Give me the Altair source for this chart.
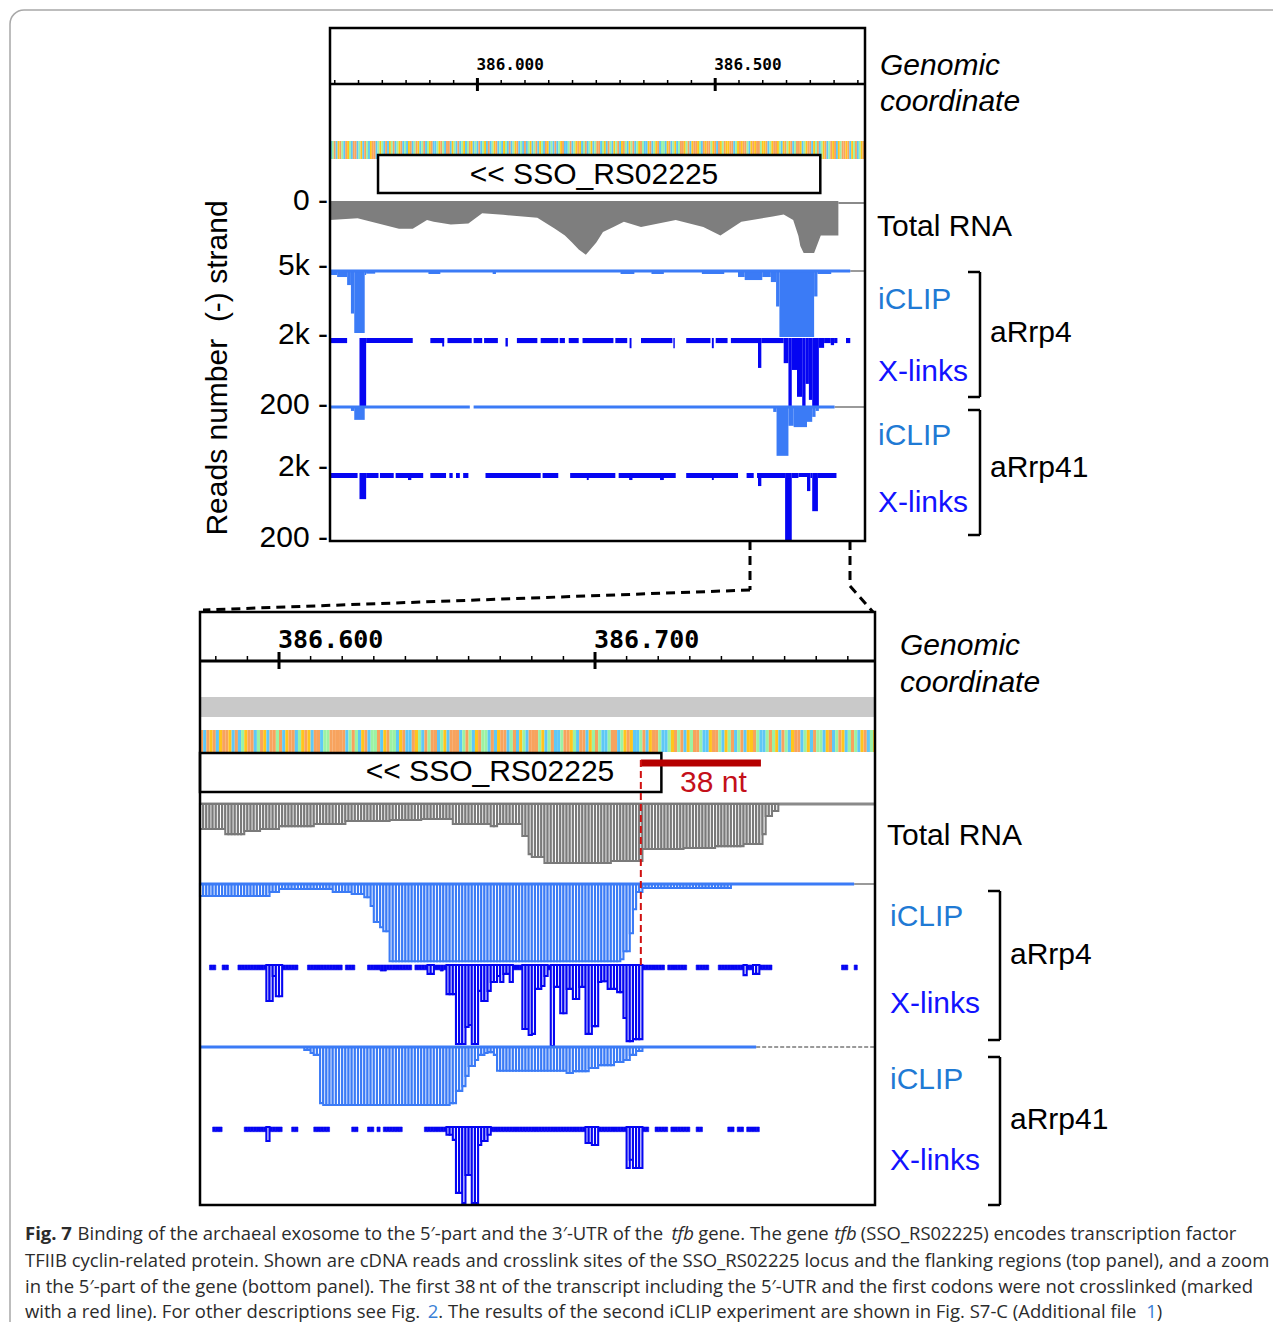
import altair as alt
import pandas as pd

# ====================== values ======================
TOP_DOMAIN = [385690, 386815]          # genomic window of the top panel (nt)
BOT_DOMAIN = [386575, 386788.6]        # genomic window of the zoom panel (nt)

TOP_TICKS_MAJOR = [386000, 386500]
TOP_TICK_LABELS = ["386.000", "386.500"]
TOP_TICKS_MINOR = [385700 + 50 * i for i in range(23)]
BOT_TICKS_MAJOR = [386600, 386700]
BOT_TICK_LABELS = ["386.600", "386.700"]
BOT_TICKS_MINOR = [386580 + 10 * i for i in range(21)]

GENE = [385791, 386721]
GENE_NAME = "<< SSO_RS02225"
RED_38NT = [386714.5, 386752.5]

# sequence colour strips (top: one letter per 4 nt, bottom: one letter per nt)
TOP_SEQ = ("CATCGTACTGACTTCAGCTACGTTCAGACTCGATCAGTCACGTCATGCATCAGTCCAGTACTTCGACTCA"
           "GCATGCACTCAGCTCAGTCACGACTCAGTCACTCAGCATCGACTGCACTCAGTCCATCAGTGCATCAGCA"
           "TTCAGCTACGATCGTACGATCAGTACCGTCAGTCAACGTCAGCATTGATCGTTGACTGTTAGTCTGATGG"
           "TTCAGTGTTACGTGTTAGGTCAGTTGACGTAGTCATTGCAGTTCGATCAGTCATGTCGATTGTCGATCAG"
           "TACGTTGCATCGATCGATCA")
BOT_SEQ = ("TCTGTCGTTGCTCAGTTCATGCTTATCGTTCAGTGCTTCAATTTTTCATACGTCAATCGTAACGTCCTGA"
           "CTATTCAGCTTTCATACGTAACTCGTTCATCGACTTTAGCATCCATTGACTTCGATACCATTCAGTGCCA"
           "TCGTTACCAGTATCGATTACCGTTACGATCATCGGTACCATAGCTACGTTCAGCTAACGTCATGCATACG"
           "TCAGCATCGAT")

# --- top panel: Total RNA coverage profile (position, reads)
TOP_TOTAL_POS = [385690, 385748, 385777, 385806, 385835, 385864, 385894, 385908, 385944,
                 385981, 386010, 386054, 386126, 386163, 386184, 386199, 386213, 386228,
                 386250, 386264, 386286, 386308, 386344, 386417, 386475, 386511, 386555,
                 386621, 386644, 386664, 386675, 386679, 386686, 386708, 386722, 386755,
                 386759]
TOP_TOTAL_VAL = [1480, 1350, 1620, 1890, 2160, 2160, 1480, 1620, 1840,
                 1760, 950, 1080, 1300, 2160, 2700, 3240, 3780, 4190,
                 3240, 2430, 2030, 1620, 2030, 1480, 2030, 2700, 1620,
                 1220, 1050, 1480, 2730, 3510, 4060, 4060, 2700, 2700,
                 2700]

# --- segments (start, end, reads)
TOP_ICLIP4 = [(385690, 385705, 150), (385705, 385726, 210), (385726, 385734, 450),
              (385734, 385741, 1300), (385741, 385763, 1880), (385763, 385766, 150),
              (385766, 385785, 110), (385897, 385922, 120), (386032, 386039, 120),
              (386301, 386330, 120), (386366, 386392, 120), (386472, 386519, 120),
              (386548, 386562, 210), (386562, 386599, 300), (386599, 386617, 210),
              (386617, 386628, 360), (386628, 386635, 1090), (386635, 386708, 2000),
              (386708, 386715, 790), (386715, 386744, 120)]
TOP_ICLIP4_COVER = [(385690, 386784)]

TOP_XL4 = [(385690, 385726, 15), (385752, 385766, 200), (385766, 385864, 15),
           (385901, 385930, 15), (385926, 385930, 25), (385937, 385988, 15),
           (385992, 386010, 15), (386014, 386043, 15), (386059, 386064, 25),
           (386083, 386126, 15), (386133, 386170, 15), (386173, 386184, 15),
           (386192, 386213, 15), (386221, 386286, 15), (386290, 386315, 15),
           (386320, 386324, 30), (386344, 386410, 15), (386412, 386415, 30),
           (386439, 386490, 15), (386493, 386497, 30), (386501, 386526, 15),
           (386533, 386590, 15), (386590, 386597, 88), (386597, 386644, 15),
           (386644, 386654, 74), (386654, 386661, 200), (386661, 386672, 94),
           (386672, 386683, 173), (386683, 386690, 200), (386690, 386697, 135),
           (386697, 386704, 182), (386704, 386718, 200), (386718, 386729, 29),
           (386729, 386743, 15), (386743, 386750, 21), (386750, 386757, 15),
           (386775, 386784, 15)]

TOP_ICLIP41 = [(385734, 385741, 150), (385741, 385763, 420), (386622, 386629, 180),
               (386629, 386654, 1510), (386654, 386665, 600), (386665, 386693, 640),
               (386693, 386704, 480), (386704, 386711, 330), (386711, 386718, 150)]
TOP_ICLIP41_COVER = [(385690, 385984), (385992, 386751)]

TOP_XL41 = [(385690, 385748, 15), (385752, 385766, 78), (385766, 385792, 15),
            (385795, 385824, 15), (385828, 385886, 15), (385854, 385861, 21),
            (385901, 385934, 15), (385941, 385948, 15), (385955, 385963, 15),
            (385970, 385981, 15), (386017, 386133, 15), (386137, 386170, 15),
            (386195, 386290, 15), (386230, 386234, 21), (386297, 386417, 15),
            (386319, 386326, 21), (386384, 386392, 21), (386439, 386548, 15),
            (386493, 386497, 21), (386566, 386581, 15), (386588, 386647, 15),
            (386590, 386597, 39), (386647, 386661, 200), (386661, 386675, 15),
            (386675, 386693, 12), (386693, 386700, 54), (386700, 386704, 15),
            (386704, 386716, 114), (386716, 386755, 15)]

# --- zoom panel
BOT_TOTAL = [(386575, 386583, 1560), (386583, 386589, 1880), (386589, 386594, 1690),
             (386594, 386600, 1560), (386600, 386611, 1380), (386611, 386621, 1250),
             (386621, 386635, 1060), (386635, 386645, 1000), (386645, 386655, 940),
             (386655, 386667, 1250), (386667, 386669, 1380), (386669, 386677, 1250),
             (386677, 386679, 2000), (386679, 386680, 3130), (386680, 386684, 3310),
             (386684, 386705, 3690), (386705, 386715, 3560), (386715, 386728, 2810),
             (386728, 386738, 2750), (386738, 386747, 2630), (386747, 386753, 2500),
             (386753, 386754, 1880), (386754, 386756, 750), (386756, 386758, 440)]

BOT_ICLIP4 = [(386575, 386597, 300), (386597, 386600, 200), (386600, 386617, 125),
              (386617, 386623, 200), (386623, 386627, 250), (386627, 386629, 330),
              (386629, 386630, 550), (386630, 386632, 950), (386632, 386633, 1080),
              (386633, 386635, 1180), (386635, 386708, 1930), (386708, 386709, 1880),
              (386709, 386711, 1680), (386711, 386712, 1230), (386712, 386713, 630),
              (386713, 386715, 200), (386715, 386743, 100)]
BOT_ICLIP4_COVER = [(386575, 386782)]

BOT_XL4 = [(386578, 386580, 12), (386582, 386584, 12), (386587, 386596, 12),
           (386596, 386598, 89), (386598, 386599, 27), (386599, 386601, 77),
           (386601, 386606, 12), (386609, 386620, 12), (386621, 386624, 12),
           (386628, 386642, 12), (386632, 386634, 15), (386643, 386647, 12),
           (386647, 386649, 22), (386649, 386651, 12), (386651, 386652, 15),
           (386652, 386653, 12), (386653, 386656, 72), (386656, 386659, 195),
           (386659, 386660, 153), (386660, 386661, 148), (386661, 386663, 195),
           (386663, 386664, 64), (386664, 386666, 89), (386666, 386667, 64),
           (386667, 386669, 42), (386669, 386670, 27), (386670, 386671, 42),
           (386671, 386673, 22), (386673, 386674, 42), (386674, 386677, 12),
           (386677, 386679, 158), (386679, 386680, 173), (386680, 386681, 170),
           (386681, 386683, 59), (386683, 386684, 52), (386684, 386685, 27),
           (386685, 386686, 12), (386686, 386687, 200), (386687, 386689, 54),
           (386689, 386691, 119), (386691, 386693, 59), (386693, 386695, 84),
           (386695, 386697, 54), (386697, 386699, 170), (386699, 386701, 151),
           (386701, 386702, 42), (386702, 386704, 40), (386704, 386707, 59),
           (386707, 386709, 67), (386709, 386710, 131), (386710, 386712, 188),
           (386712, 386715, 183), (386715, 386722, 12), (386723, 386729, 12),
           (386732, 386736, 12), (386739, 386747, 12), (386747, 386748, 25),
           (386748, 386750, 12), (386750, 386752, 22), (386752, 386756, 12),
           (386778, 386780, 12), (386782, 386783, 12)]

BOT_ICLIP41 = [(386608, 386610, 76), (386610, 386611, 150), (386611, 386613, 200),
               (386613, 386614, 1420), (386614, 386654, 1470), (386654, 386656, 1420),
               (386656, 386658, 1110), (386658, 386659, 990), (386659, 386660, 730),
               (386660, 386662, 480), (386662, 386663, 330), (386663, 386665, 200),
               (386665, 386666, 150), (386666, 386668, 130), (386668, 386669, 200),
               (386669, 386691, 600), (386691, 386693, 660), (386693, 386698, 610),
               (386698, 386701, 530), (386701, 386706, 460), (386706, 386709, 380),
               (386709, 386711, 330), (386711, 386713, 200), (386713, 386715, 100)]
BOT_ICLIP41_COVER = [(386575, 386751)]

BOT_XL41 = [(386579, 386582, 12), (386589, 386601, 12), (386596, 386597, 36),
            (386604, 386606, 12), (386611, 386616, 12), (386623, 386625, 12),
            (386628, 386630, 12), (386631, 386632, 12), (386633, 386639, 12),
            (386646, 386653, 12), (386653, 386655, 20), (386655, 386656, 33),
            (386656, 386658, 169), (386658, 386659, 195), (386659, 386661, 123),
            (386661, 386663, 195), (386663, 386664, 46), (386664, 386666, 36),
            (386666, 386667, 20), (386667, 386697, 12), (386697, 386699, 41),
            (386699, 386701, 46), (386701, 386710, 12), (386710, 386711, 105),
            (386711, 386712, 84), (386712, 386715, 105), (386715, 386717, 12),
            (386719, 386723, 12), (386724, 386730, 12), (386732, 386734, 12),
            (386742, 386744, 12), (386745, 386747, 12), (386748, 386752, 12)]

# caption: (text, bold, italic, link, space_before)
CAPTION_L1 = [("Fig. 7", True, False, False, False),
              ("Binding of the archaeal exosome to the 5\u2032-part and the 3\u2032-UTR of the", False, False, False, True),
              ("tfb", False, True, False, True),
              ("gene. The gene", False, False, False, True),
              ("tfb", False, True, False, True),
              ("(SSO_RS02225) encodes transcription factor", False, False, False, True)]
CAPTION_L2 = [("TFIIB cyclin-related protein. Shown are cDNA reads and crosslink sites of the SSO_RS02225 locus and the flanking regions (top panel), and a zoom", False, False, False, False)]
CAPTION_L3 = [("in the 5\u2032-part of the gene (bottom panel). The first 38\u2009nt of the transcript including the 5\u2032-UTR and the first codons were not crosslinked (marked", False, False, False, False)]
CAPTION_L4 = [("with a red line). For other descriptions see Fig.", False, False, False, False),
              ("2", False, False, True, True),
              (". The results of the second iCLIP experiment are shown in Fig. S7-C (Additional file", False, False, False, False),
              ("1", False, False, True, True),
              (")", False, False, False, False)]

# ====================== layout & style ======================
OFF = 8
W, H = 1265, 1314
ICLIP = "#3b7bf6"
XL = "#0505f2"
ICLIP_TXT = "#1f7ad4"
XL_TXT = "#1212ff"
RED = "#b50000"
BASE_COLORS = {"A": "#9cf2a4", "C": "#5ec8f6", "G": "#ffc51c", "T": "#f7a35e"}
LABEL_FONT = "Liberation Sans"

PANEL_X = {"top": (330, 865), "bot": (200, 875)}
PANEL_DOM = {"top": TOP_DOMAIN, "bot": BOT_DOMAIN}
TRACK_Y = {
    "top": {"total": (201, 265, 5000), "iclip4": (270, 337, 2000), "xl4": (338, 406, 200),
            "iclip41": (406, 472, 2000), "xl41": (473, 540, 200)},
    "bot": {"total": (804, 884, 5000), "iclip4": (884, 964, 2000), "xl4": (965, 1046, 200),
            "iclip41": (1047, 1126, 2000), "xl41": (1127, 1205, 200)},
}

# approximate Open Sans advance widths (units per 2048 em), used only to lay out caption pieces
_OS = {' ': 532, '(': 606, ')': 606, ',': 502, '-': 659, '.': 545, '_': 918, ':': 545,
       '\u2032': 453, '\u2009': 410,
       'A': 1296, 'B': 1327, 'C': 1292, 'D': 1493, 'E': 1139, 'F': 1057, 'G': 1491, 'H': 1511,
       'I': 571, 'J': 547, 'K': 1257, 'L': 1073, 'M': 1849, 'N': 1544, 'O': 1595, 'P': 1233,
       'Q': 1595, 'R': 1266, 'S': 1104, 'T': 1128, 'U': 1499, 'V': 1237, 'W': 1901, 'X': 1200,
       'Y': 1163, 'Z': 1167,
       'a': 1149, 'b': 1260, 'c': 983, 'd': 1260, 'e': 1155, 'f': 705, 'g': 1114, 'h': 1266,
       'i': 530, 'j': 530, 'k': 1092, 'l': 530, 'm': 1931, 'n': 1266, 'o': 1239, 'p': 1260,
       'q': 1260, 'r': 846, 's': 981, 't': 729, 'u': 1266, 'v': 1034, 'w': 1593, 'x': 1083,
       'y': 1036, 'z': 965}


def tw(s, bold=False, italic=False):
    w = sum(_OS.get(c, 1171) for c in s) / 2048.0
    return w * (1.07 if bold else 1.0) * (0.9 if italic else 1.0)


def X(v):
    return v - OFF


def Y(v):
    return v - OFF


def xsc(panel):
    a, b = PANEL_X[panel]
    return alt.Scale(domain=list(PANEL_DOM[panel]), range=[X(a), X(b)], nice=False, zero=False)


def ysc(panel, track):
    t, b, vmax = TRACK_Y[panel][track]
    return alt.Scale(domain=[0, vmax], range=[Y(t), Y(b)], nice=False, zero=False)


def segs_df(segs):
    return pd.DataFrame({"s": [a for a, _, _ in segs], "e": [b for _, b, _ in segs],
                         "v": [c for _, _, c in segs], "b": [0] * len(segs)})


def per_nt(segs):
    d = {}
    for s, e, v in segs:
        for p in range(int(s), int(e)):
            d[p] = max(d.get(p, 0), v)
    ps = sorted(d)
    return pd.DataFrame({"s": ps, "e": [p + 1 for p in ps], "v": [d[p] for p in ps], "b": [0] * len(ps)})


def _rect(df, panel, track, mk):
    return alt.Chart(df).mark_rect(**mk).encode(
        x=alt.X("s:Q", scale=xsc(panel), axis=None), x2=alt.X2("e"),
        y=alt.Y("v:Q", scale=ysc(panel, track), axis=None), y2=alt.Y2("b"))


def bars(panel, track, segs, color):
    return [_rect(segs_df(segs), panel, track, dict(color=color))]


def comb_bars(panel, track, segs, color, solid_below=0):
    """zoom-panel style: one outlined bar per nucleotide; shallow bars drawn solid"""
    df = per_nt(segs)
    out = []
    shallow = df[df["v"] <= solid_below]
    deep = df[df["v"] > solid_below]
    if len(shallow):
        out.append(_rect(shallow, panel, track, dict(color=color, stroke=color, strokeWidth=0.6)))
    if len(deep):
        out.append(_rect(deep, panel, track, dict(fill="white", stroke=color, strokeWidth=2.1)))
    return out


def span_line(panel, spans, ypix, color, width, dash=None):
    df = pd.DataFrame({"s": [a for a, _ in spans], "e": [b for _, b in spans]})
    mk = dict(color=color, strokeWidth=width)
    if dash:
        mk["strokeDash"] = dash
    return alt.Chart(df).mark_rule(**mk).encode(
        x=alt.X("s:Q", scale=xsc(panel), axis=None), x2=alt.X2("e"), y=alt.value(Y(ypix)))


def lines(segs, color="black", width=2.5, dash=None):
    df = pd.DataFrame({"x": [X(a) for a, _, _, _ in segs], "y": [Y(b) for _, b, _, _ in segs],
                       "x2": [X(c) for _, _, c, _ in segs], "y2": [Y(d) for _, _, _, d in segs]})
    mk = dict(color=color, strokeWidth=width)
    if dash:
        mk["strokeDash"] = dash
    return alt.Chart(df).mark_rule(**mk).encode(
        x=alt.X("x:Q", scale=None, axis=None), y=alt.Y("y:Q", scale=None, axis=None),
        x2=alt.X2("x2"), y2=alt.Y2("y2"))


def box(x0, y0, x1, y1, stroke="black", width=2.5, fill=None, radius=0):
    df = pd.DataFrame({"x": [X(x0)], "y": [Y(y0)], "x2": [X(x1)], "y2": [Y(y1)]})
    mk = dict(stroke=stroke, strokeWidth=width, cornerRadius=radius)
    if fill:
        mk["fill"] = fill
    else:
        mk["fillOpacity"] = 0
    return alt.Chart(df).mark_rect(**mk).encode(
        x=alt.X("x:Q", scale=None, axis=None), y=alt.Y("y:Q", scale=None, axis=None),
        x2=alt.X2("x2"), y2=alt.Y2("y2"))


def text(t, x, y, size=30, color="black", font=LABEL_FONT, align="left",
         style="normal", weight="normal", angle=0, baseline="middle"):
    return alt.Chart(pd.DataFrame({"t": [t]})).mark_text(
        align=align, baseline=baseline, font=font, fontSize=size, color=color,
        fontStyle=style, fontWeight=weight, angle=angle).encode(
        x=alt.value(X(x)), y=alt.value(Y(y)), text="t:N")


def strip(panel, seq, step, y0, y1):
    d0, d1 = PANEL_DOM[panel]
    rows = []
    for i, ch in enumerate(seq):
        s = d0 + i * step
        if s >= d1:
            break
        rows.append((s, min(s + step, d1), ch))
    df = pd.DataFrame(rows, columns=["s", "e", "base"])
    return alt.Chart(df).mark_rect().encode(
        x=alt.X("s:Q", scale=xsc(panel), axis=None), x2=alt.X2("e"),
        y=alt.value(Y(y0)), y2=alt.value(Y(y1)),
        color=alt.Color("base:N", scale=alt.Scale(domain=list(BASE_COLORS),
                                                  range=list(BASE_COLORS.values())), legend=None))


def ruler(panel, yline, major, labels, minor, label_y, maj_y, min_y, fsize, lw):
    a, b = PANEL_X[panel]
    out = [lines([(a, yline, b, yline)], width=lw)]
    mj = pd.DataFrame({"p": major, "t": labels})
    mn = pd.DataFrame({"p": minor})
    out.append(alt.Chart(mj).mark_rule(color="black", strokeWidth=3).encode(
        x=alt.X("p:Q", scale=xsc(panel), axis=None), y=alt.value(Y(maj_y[0])), y2=alt.value(Y(maj_y[1]))))
    out.append(alt.Chart(mn).mark_rule(color="black", strokeWidth=1.5).encode(
        x=alt.X("p:Q", scale=xsc(panel), axis=None), y=alt.value(Y(min_y[0])), y2=alt.value(Y(min_y[1]))))
    out.append(alt.Chart(mj).mark_text(align="left", baseline="middle", dx=-1, font="DejaVu Sans Mono",
                                       fontWeight="bold", fontSize=fsize, color="black").encode(
        x=alt.X("p:Q", scale=xsc(panel), axis=None), y=alt.value(Y(label_y)), text="t:N"))
    return out


def gene_box(panel, y0, y1):
    d0, d1 = PANEL_DOM[panel]
    df = pd.DataFrame({"s": [max(GENE[0], d0)], "e": [min(GENE[1], d1)]})
    return alt.Chart(df).mark_rect(fill="white", stroke="black", strokeWidth=2.5).encode(
        x=alt.X("s:Q", scale=xsc(panel), axis=None), x2=alt.X2("e"),
        y=alt.value(Y(y0)), y2=alt.value(Y(y1)))


layers = []
# outer frame
layers.append(box(10, 10, 1320, 1360, stroke="#a8a8a8", width=1.5, radius=14))

# ---------------- top panel ----------------
layers += ruler("top", 84, TOP_TICKS_MAJOR, TOP_TICK_LABELS, TOP_TICKS_MINOR, 65, (78, 91), (80, 84), 16, 2.5)
layers.append(strip("top", TOP_SEQ, 4, 141, 159))
layers.append(gene_box("top", 155, 193))
layers.append(text(GENE_NAME, 594, 175, size=30, align="center"))

total_df = pd.DataFrame({"p": TOP_TOTAL_POS, "v": TOP_TOTAL_VAL, "b": [0] * len(TOP_TOTAL_POS)})
layers.append(span_line("top", [(386759, TOP_DOMAIN[1])], 203, "#8a8a8a", 2))
layers.append(alt.Chart(total_df).mark_area(color="#7e7e7e", interpolate="linear").encode(
    x=alt.X("p:Q", scale=xsc("top"), axis=None),
    y=alt.Y("v:Q", scale=ysc("top", "total"), axis=None), y2=alt.Y2("b")))

layers.append(span_line("top", [(386784, TOP_DOMAIN[1])], 271, "#9a9a9a", 2))
layers += bars("top", "iclip4", TOP_ICLIP4, ICLIP)
layers.append(span_line("top", TOP_ICLIP4_COVER, 271, ICLIP, 3))
layers += bars("top", "xl4", TOP_XL4, XL)
layers.append(span_line("top", [(386751, TOP_DOMAIN[1])], 407, "#9a9a9a", 2))
layers += bars("top", "iclip41", TOP_ICLIP41, ICLIP)
layers.append(span_line("top", TOP_ICLIP41_COVER, 407, ICLIP, 3))
layers += bars("top", "xl41", TOP_XL41, XL)
layers.append(box(330, 28, 865, 541, width=2.5))

# top panel texts
layers.append(text("Genomic", 880, 66, style="italic"))
layers.append(text("coordinate", 880, 102, style="italic"))
layers.append(text("Total RNA", 877, 227))
layers.append(text("iCLIP", 878, 300, color=ICLIP_TXT))
layers.append(text("X-links", 878, 372, color=XL_TXT))
layers.append(text("aRrp4", 990, 333))
layers.append(text("iCLIP", 878, 436, color=ICLIP_TXT))
layers.append(text("X-links", 878, 503, color=XL_TXT))
layers.append(text("aRrp41", 990, 468))
for lab, yy in [("0 -", 201), ("5k -", 266), ("2k -", 335), ("200 -", 405), ("2k -", 467), ("200 -", 538)]:
    layers.append(text(lab, 328, yy, align="right"))
layers.append(text("Reads number\u00a0\u00a0(-) strand", 218, 368, align="center", angle=270))
layers.append(lines([(968, 272, 980, 272), (980, 272, 980, 397), (968, 397, 980, 397),
                     (968, 410, 980, 410), (980, 410, 980, 535), (968, 535, 980, 535)], width=2.5))

# connectors
layers.append(lines([(750, 541, 750, 590), (750, 590, 203, 610), (850, 541, 850, 586), (850, 586, 873, 612)],
                    width=3, dash=[9, 6]))

# ---------------- zoom panel ----------------
layers += ruler("bot", 661, BOT_TICKS_MAJOR, BOT_TICK_LABELS, BOT_TICKS_MINOR, 640, (652, 669), (656, 661), 25, 3)
layers.append(box(201, 697, 874, 717, stroke="#cacaca", width=0, fill="#c9c9c9"))
layers.append(strip("bot", BOT_SEQ, 1, 730, 752))
layers.append(gene_box("bot", 753, 792))
layers.append(text(GENE_NAME, 490, 772, size=30, align="center"))

red_df = pd.DataFrame({"s": [RED_38NT[0]], "e": [RED_38NT[1]]})
layers.append(alt.Chart(red_df).mark_rule(color=RED, strokeWidth=7).encode(
    x=alt.X("s:Q", scale=xsc("bot"), axis=None), x2=alt.X2("e"), y=alt.value(Y(763))))
layers.append(text("38 nt", 680, 783, color="#c4101a"))

layers.append(span_line("bot", [(BOT_DOMAIN[0], BOT_DOMAIN[1])], 804, "#8a8a8a", 3))
layers += comb_bars("bot", "total", BOT_TOTAL, "#7a7a7a")
layers.append(span_line("bot", [(386782, BOT_DOMAIN[1])], 884, "#9a9a9a", 2))
layers += comb_bars("bot", "iclip4", BOT_ICLIP4, ICLIP)
layers.append(span_line("bot", BOT_ICLIP4_COVER, 884, ICLIP, 3))
layers += comb_bars("bot", "xl4", BOT_XL4, XL, solid_below=15)
layers.append(span_line("bot", [(386751, BOT_DOMAIN[1])], 1047, "#9a9a9a", 2, dash=[4, 2]))
layers += comb_bars("bot", "iclip41", BOT_ICLIP41, ICLIP)
layers.append(span_line("bot", BOT_ICLIP41_COVER, 1047, ICLIP, 3))
layers += comb_bars("bot", "xl41", BOT_XL41, XL, solid_below=15)

layers.append(alt.Chart(red_df).mark_rule(color="#d01010", strokeWidth=2, strokeDash=[7, 4]).encode(
    x=alt.X("s:Q", scale=xsc("bot"), axis=None), y=alt.value(Y(760)), y2=alt.value(Y(966))))
layers.append(box(200, 612, 875, 1205, width=2.5))

layers.append(text("Genomic", 900, 646, style="italic"))
layers.append(text("coordinate", 900, 683, style="italic"))
layers.append(text("Total RNA", 887, 836))
layers.append(text("iCLIP", 890, 917, color=ICLIP_TXT))
layers.append(text("X-links", 890, 1004, color=XL_TXT))
layers.append(text("aRrp4", 1010, 955))
layers.append(text("iCLIP", 890, 1080, color=ICLIP_TXT))
layers.append(text("X-links", 890, 1161, color=XL_TXT))
layers.append(text("aRrp41", 1010, 1120))
layers.append(lines([(988, 891, 1000, 891), (1000, 891, 1000, 1040), (988, 1040, 1000, 1040),
                     (988, 1057, 1000, 1057), (1000, 1057, 1000, 1205), (988, 1205, 1000, 1205)], width=2.5))

# ---------------- caption ----------------
CF = "Open Sans"
CS = 1252.0 / tw(CAPTION_L2[0][0])       # font size that gives line 2 the reference width
CS = min(CS, 19.0)
CC = "#2b2b2b"
LINK = "#3a7fd5"
for line, base_y in [(CAPTION_L1, 1240), (CAPTION_L2, 1266.5), (CAPTION_L3, 1293), (CAPTION_L4, 1318)]:
    xx = 25.0
    for t, bold, ital, link, sp in line:
        if sp:
            xx += tw(" ") * CS
        layers.append(text(t, xx, base_y, size=CS, font=CF, color=LINK if link else CC,
                           weight="bold" if bold else "normal",
                           style="italic" if ital else "normal", baseline="alphabetic"))
        xx += tw(t, bold, ital) * CS

chart = alt.layer(*layers).resolve_scale(
    x="independent", y="independent", color="independent"
).properties(
    width=W, height=H, padding=0, autosize=alt.AutoSizeParams(type="none"), background="white"
).configure_view(strokeWidth=0)

chart.save("out.html", embed_options={"renderer": "svg", "actions": False})
